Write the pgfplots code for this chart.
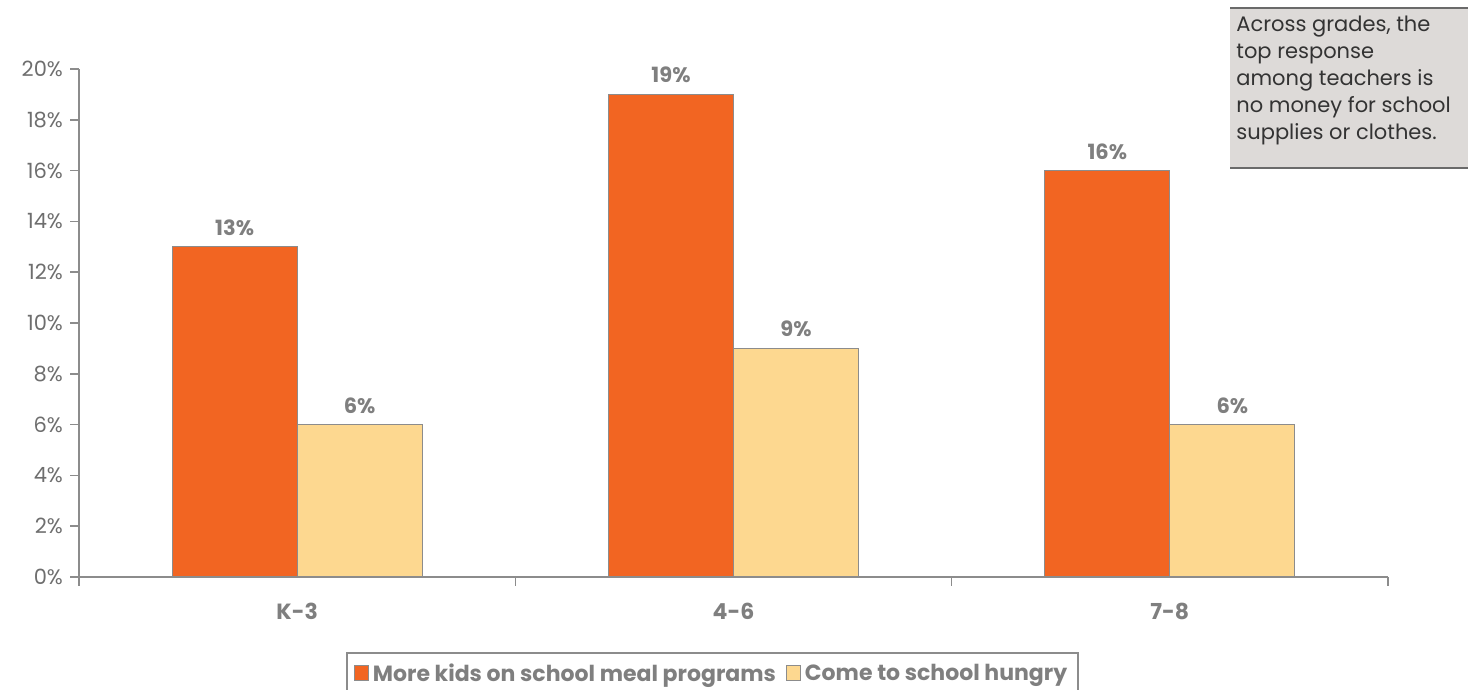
\documentclass[border=0pt]{standalone}
\usepackage{pgfplots}
\pgfplotsset{compat=1.18}
\usepackage{fontspec}
\setmainfont{Poppins}
\definecolor{orng}{HTML}{F26522}
\definecolor{lite}{HTML}{FDD890}
\definecolor{txt}{HTML}{7F7F7F}
\definecolor{ticktxt}{HTML}{6E6E6E}
\definecolor{ax}{HTML}{8C8C8C}
\definecolor{boxfill}{HTML}{DDDAD8}
\definecolor{boxline}{HTML}{6A6A6A}
\begin{document}
\begin{tikzpicture}
\useasboundingbox (0pt,0pt) rectangle (734pt,345pt);
\begin{axis}[
  at={(39.5pt,56.5pt)}, anchor=south west,
  scale only axis, width=654.5pt, height=254pt,
  ymin=0, ymax=20, xmin=-0.5, xmax=2.5,
  axis lines*=left,
  axis line style={ax, line width=0.8pt},
  tick style={ax, line width=0.8pt},
  tick align=outside,
  major tick length=4.5pt,
  ytick={0,2,...,20},
  yticklabel={\pgfmathprintnumber{\tick}\%},
  /pgf/number format/assume math mode=true,
  yticklabel style={font=\fontsize{10.5}{12}\selectfont, color=ticktxt},
  xtick={-0.5,0.5,1.5,2.5},
  x tick label as interval,
  xticklabels={K-3,4-6,7-8},
  xticklabel style={font=\fontsize{11}{12}\selectfont\bfseries, color=txt, yshift=-5pt},
  ybar=0pt,
  bar width=62.5pt,
  nodes near coords={\pgfmathprintnumber{\pgfplotspointmeta}\%},
  every node near coord/.append style={font=\fontsize{10.5}{12}\selectfont\bfseries, color=txt, yshift=2pt},
  legend style={at={(0.484,-0.148)}, anchor=north, legend columns=2, draw=ax, line width=0.8pt,
    font=\fontsize{11}{12}\selectfont\bfseries, text=txt, inner sep=3.5pt,
    /tikz/every even column/.append style={column sep=3pt}},
  legend image code/.code={\draw[#1, draw=ax, line width=0.5pt] (0pt,-3pt) rectangle (7pt,4.5pt);},
]
\addplot[fill=orng, draw=ax, line width=0.6pt, bar shift=-31.25pt] coordinates {(0,13) (1,19) (2,16)};
\addplot[fill=lite, draw=ax, line width=0.6pt, bar shift=31.25pt] coordinates {(0,6) (1,9) (2,6)};
\legend{More kids on school meal programs, Come to school hungry}
\end{axis}
\fill[boxfill] (615pt,261pt) rectangle (735pt,341pt);
\draw[boxline, line width=1pt] (615pt,341pt) -- (735pt,341pt);
\draw[boxline, line width=1pt] (615pt,261pt) -- (735pt,261pt);
\node[anchor=north west, align=left, inner sep=0pt, text=black!80, font=\fontsize{10.5}{13.4}\selectfont] at (618pt,337pt)
  {Across grades, the\\top response\\among teachers is\\no money for school\\supplies or clothes.};
\end{tikzpicture}
\end{document}
